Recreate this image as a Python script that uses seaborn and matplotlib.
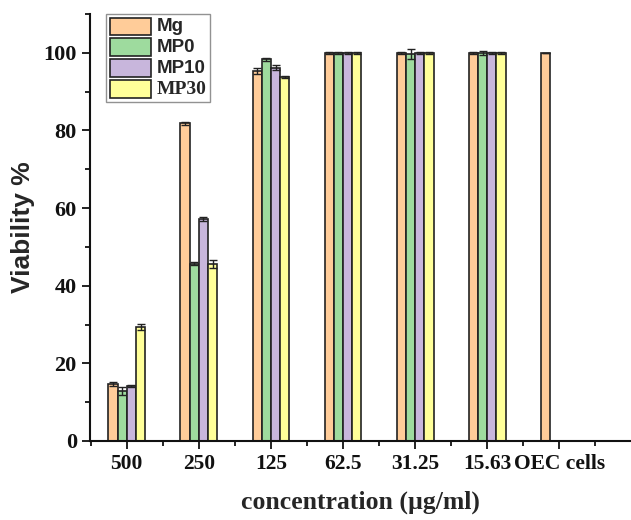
import matplotlib
matplotlib.use('Agg')
import matplotlib.pyplot as plt
from matplotlib.ticker import MultipleLocator, FixedLocator
import pandas as pd
import seaborn as sns

# Data
concentrations = ['500', '250', '125', '62.5', '31.25', '15.63', 'OEC cells']
groups = ['Mg', 'MP0', 'MP10', 'MP30']
mg = [14.7, 81.8, 95.3, 100.0, 100.0, 100.0, 100.0]
mg_err = [0.6, 0.3, 0.8, 0.2, 0.3, 0.2, 0.0]
mp0 = [12.9, 45.7, 98.3, 100.0, 99.8, 100.0, None]
mp0_err = [1.0, 0.4, 0.5, 0.2, 1.3, 0.5, None]
mp10 = [14.2, 57.3, 96.2, 100.0, 100.0, 100.0, None]
mp10_err = [0.3, 0.5, 0.6, 0.2, 0.3, 0.2, None]
mp30 = [29.3, 45.6, 93.7, 100.0, 100.0, 100.0, None]
mp30_err = [0.8, 1.0, 0.3, 0.2, 0.3, 0.2, None]
colors = ['#FFCC99', '#9EDB9E', '#C8B6DC', '#FFFF99']

rows = []
for g, vals, errs in zip(groups, [mg, mp0, mp10, mp30], [mg_err, mp0_err, mp10_err, mp30_err]):
    for c, v, e in zip(concentrations, vals, errs):
        if v is not None:
            rows.append({'conc': c, 'group': g, 'viability': v, 'err': e})
df = pd.DataFrame(rows)

sns.set_style('ticks')
fig = plt.figure(figsize=(6.31, 5.2), dpi=100)
ax = fig.add_axes([0.1426, 0.152, 0.857, 0.821])

sns.barplot(data=df, x='conc', y='viability', hue='group', order=concentrations,
            hue_order=groups, palette=colors, errorbar=None, width=0.51,
            edgecolor='#222222', linewidth=1.2, saturation=1, ax=ax)

# error bars on top of each bar, taken from the bar patches
for container, g in zip(ax.containers, groups):
    sub = df[df['group'] == g].set_index('conc').reindex(concentrations).dropna()
    xs = [p.get_x() + p.get_width() / 2 for p in container.patches if p.get_height() > 0]
    hs = [p.get_height() for p in container.patches if p.get_height() > 0]
    ax.errorbar(xs, hs, yerr=sub['err'].values[:len(xs)], fmt='none', ecolor='#222222',
                elinewidth=1, capsize=3, capthick=1)

ax.set_ylim(0, 110)
ax.set_xlim(-0.51, 6.99)
ax.yaxis.set_major_locator(MultipleLocator(20))
ax.yaxis.set_minor_locator(MultipleLocator(10))
ax.xaxis.set_minor_locator(FixedLocator([i + 0.5 for i in range(-1, 7)]))
ax.tick_params(axis='both', which='major', direction='out', length=6, width=1.3, colors='#111111')
ax.tick_params(axis='both', which='minor', direction='out', length=3.5, width=1.3, colors='#111111')
for side in ['top', 'right']:
    ax.spines[side].set_visible(False)
for side in ['left', 'bottom']:
    ax.spines[side].set_linewidth(1.5)
    ax.spines[side].set_color('#111111')

for lab in ax.get_xticklabels():
    lab.set_fontfamily('Liberation Serif')
    lab.set_fontweight('bold')
    lab.set_fontsize(15.5)
for lab in ax.get_yticklabels():
    lab.set_fontfamily('Liberation Serif')
    lab.set_fontweight('bold')
    lab.set_fontsize(16)

ax.set_xlabel('concentration (µg/ml)', fontfamily='Liberation Serif', fontweight='bold',
              fontsize=18.5, labelpad=12)
ax.set_ylabel('Viability %', fontfamily='Liberation Sans', fontweight='bold',
              fontsize=19, labelpad=6)

leg = ax.legend(loc='upper left', bbox_to_anchor=(0.03, 1.0), borderaxespad=0,
                fancybox=False, edgecolor='#777777', handlelength=3.0, handleheight=1.6,
                labelspacing=0.22, handletextpad=0.4, borderpad=0.25, title=None)
leg.get_frame().set_linewidth(1.0)
for t in leg.get_texts():
    t.set_fontweight('bold')
    t.set_fontsize(13.5)
    t.set_fontfamily('Liberation Sans')
leg.get_texts()[3].set_fontfamily('Liberation Serif')
leg.get_texts()[3].set_fontsize(14)

fig.savefig('out.png', dpi=100)
